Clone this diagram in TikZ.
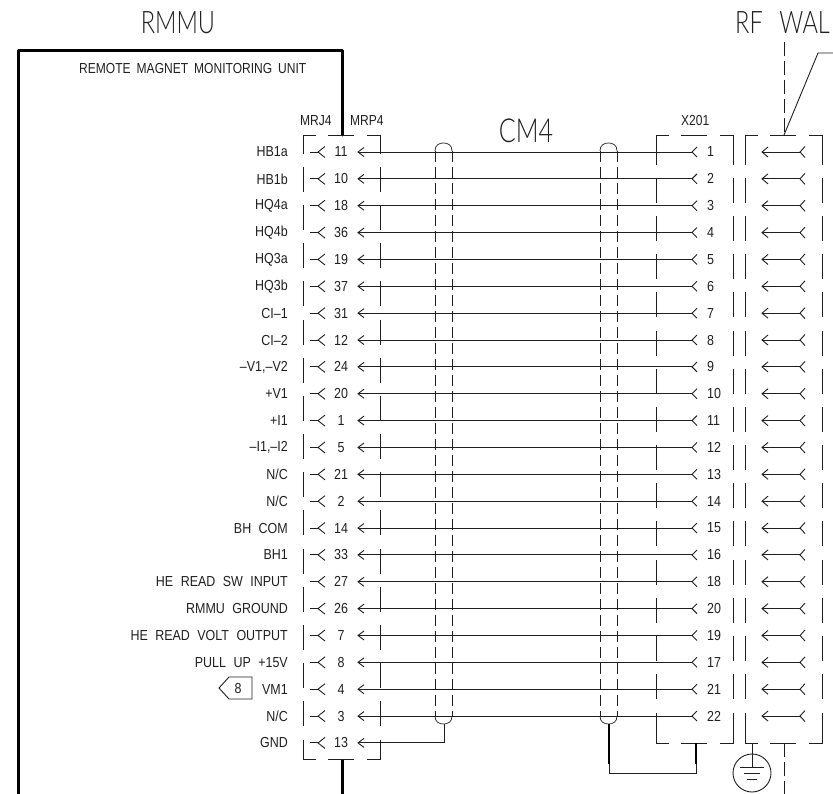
\documentclass[tikz,border=0pt]{standalone}
\usepackage{fontspec}
\newfontfamily\cadfont[FakeStretch=0.86,WordSpace=2.15]{Liberation Sans}
\newfontfamily\smallfont[FakeStretch=0.83,WordSpace=1.8]{Liberation Sans}
\newfontfamily\titlefont[FakeStretch=0.76,WordSpace=2.6]{Lato Light}
\definecolor{ink}{gray}{0.12}
\tikzset{
  lab/.style={inner sep=0pt,font=\cadfont\fontsize{14.5}{14.5}\selectfont,text=ink},
  small/.style={inner sep=0pt,font=\smallfont\fontsize{14.5}{14.5}\selectfont,text=ink},
  titletext/.style={inner sep=0pt,font=\titlefont\fontsize{31}{31}\selectfont,text=ink},
  cabletext/.style={inner sep=0pt,font=\titlefont\fontsize{33}{33}\selectfont,text=ink},
  wire/.style={draw=ink,line width=0.9pt},
  thickwall/.style={draw=black,line width=3pt,line cap=round,line join=round},
  longdash/.style={draw=ink,line width=0.9pt,dash pattern=on 25pt off 13.15pt},
  shielddash/.style={draw=ink,line width=0.9pt,dash pattern=on 11pt off 5pt},
  centerdash/.style={draw=ink,line width=0.9pt,dash pattern=on 14pt off 5pt},
  fork/.style={draw=ink,line width=0.9pt},
}
\newcommand{\frameconn}[7]{
  \draw[wire] (#1,#7) -- (#1,#3) -- (#1+13,#3);
  \draw[wire] (#1+25,#3) -- (#1+51,#3);
  \draw[wire] (#1+64,#3) -- (#2,#3) -- (#2,#7);
  \draw[wire] (#1,#4) -- (#1,135) -- (#1+13,135);
  \draw[wire] (#1+25,135) -- (#1+51,135);
  \draw[wire] (#1+64,135) -- (#2,135) -- (#2,#4);
  \draw[longdash] (#1,#5) -- (#1,#6);
  \draw[longdash] (#2,#5) -- (#2,#6);
}
\begin{document}
\begin{tikzpicture}[x=1pt,y=-1pt]
\useasboundingbox (0,0) rectangle (833,793);
\clip (0,0) rectangle (833,793);
% titles
\node[titletext,anchor=base] (rmmu) at (178,33.5) {RMMU};
\node[titletext,anchor=base west] (rfwal) at (735,33.5) {RF WAL};
\node[cabletext,anchor=base] (cmf) at (526,142) {CM4};
\node[small,anchor=base west] (unit) at (79,73.5) {REMOTE MAGNET MONITORING UNIT};
\node[small,anchor=base west] (mrj) at (300,125) {MRJ4};
\node[small,anchor=base west] (mrp) at (350,125) {MRP4};
\node[small,anchor=base west] (xtwo) at (681,125) {X201};
% unit outline
\coordinate (boxbl) at (18,795);
\coordinate (boxtl) at (18,50);
\coordinate (boxtr) at (342,50);
\coordinate (boxr) at (342,135);
\coordinate (boxr2) at (342,759);
\coordinate (boxr3) at (342,795);
\draw[thickwall] (boxbl) -- (boxtl) -- (boxtr) -- (boxr);
\draw[thickwall,line cap=butt] (boxr2) -- (boxr3);
% connector frames
\frameconn{303}{380}{759}{154}{167}{727.5}{740}
\frameconn{656}{733}{743}{164.5}{178}{700}{713}
\frameconn{745}{822}{743}{164.5}{178}{700}{713}
% rows
\foreach \i/\lbl/\pin/\rpin in {
 0/HB1a/11/1, 1/HB1b/10/2, 2/HQ4a/18/3, 3/HQ4b/36/4, 4/HQ3a/19/5, 5/HQ3b/37/6,
 6/CI–1/31/7, 7/CI–2/12/8, 8/–V1{,}–V2/24/9, 9/+V1/20/10, 10/+I1/1/11, 11/–I1{,}–I2/5/12,
 12/N\slash C/21/13, 13/N\slash C/2/14, 14/BH COM/14/15, 15/BH1/33/16,
 16/HE READ SW INPUT/27/18, 17/RMMU GROUND/26/20, 18/HE READ VOLT OUTPUT/7/19,
 19/PULL UP +15V/8/17, 20/VM1/4/21, 21/N\slash C/3/22}{
  \pgfmathsetmacro\yy{152+26.86*\i}
  \node[lab,anchor=east] (name\i) at (288,\yy) {\lbl};
  \node[lab] (pin\i) at (341,\yy) {\pin};
  \node[lab,anchor=west] (rpin\i) at (707,\yy) {\rpin};
  \coordinate (lt\i) at (358,\yy);
  \coordinate (rt\i) at (692,\yy);
  \draw[wire] (lt\i) -- (rt\i);
  \draw[fork] (364,\yy-4.5) -- (lt\i) -- (364,\yy+4.5);
  \draw[fork] (697,\yy-5) -- (rt\i) -- (697,\yy+5);
  \draw[fork] (310,\yy) -- (318,\yy);
  \draw[fork] (325,\yy-5.5) -- (318,\yy) -- (325,\yy+5.5);
  \draw[fork] (768,\yy-5) -- (762,\yy) -- (768,\yy+5);
  \draw[fork] (762,\yy) -- (800,\yy);
  \draw[fork] (805,\yy-5.5) -- (800,\yy) -- (805,\yy+5.5);
}
% GND row
\pgfmathsetmacro\yg{152+26.86*22}
\node[lab,anchor=east] (namegnd) at (288,\yg) {GND};
\node[lab] (pingnd) at (341,\yg) {13};
\coordinate (ltg) at (358,\yg);
\coordinate (shA) at (444,\yg);
\coordinate (shAb) at (444,724);
\draw[wire] (ltg) -- (shA) -- (shAb);
\draw[fork] (364,\yg-4.5) -- (ltg) -- (364,\yg+4.5);
\draw[fork] (310,\yg) -- (318,\yg);
\draw[fork] (325,\yg-5.5) -- (318,\yg) -- (325,\yg+5.5);
% shields
\foreach \xa/\xb in {435/452,600/617}{
  \draw[shielddash] (\xa,151) -- (\xa,716);
  \draw[shielddash] (\xb,151) -- (\xb,716);
  \draw[wire,line width=0.7pt] (\xa,151) .. controls (\xa,145) and (\xa+4,143) .. ({(\xa+\xb)/2},143) .. controls (\xb-4,143) and (\xb,145) .. (\xb,151);
  \draw[wire,line width=0.7pt] (\xa,716) .. controls (\xa,722) and (\xa+4,724) .. ({(\xa+\xb)/2},724) .. controls (\xb-4,724) and (\xb,722) .. (\xb,716);
}
% shield 2 to X201
\coordinate (shB) at (609,724);
\coordinate (shBk) at (609,764);
\coordinate (shBl) at (609,773);
\coordinate (xB) at (696,743);
\coordinate (xBk) at (696,764);
\coordinate (xBl) at (696,773);
\draw[draw=black,line width=1.6pt] (shB) -- (shBk);
\draw[draw=black,line width=1.6pt] (xB) -- (xBk);
\draw[wire] (shBk) -- (shBl) -- (xBl) -- (xBk);
% tag
\node[lab] (tag) at (238,688) {8};
\draw[wire] (252,677) -- (229,677) -- (219,688) -- (229,699) -- (252,699) -- cycle;
% RF wall line
\coordinate (wtop) at (784,42);
\coordinate (wmid) at (784,135);
\coordinate (wbot) at (784,743);
\coordinate (wend) at (784,795);
\draw[centerdash] (wtop) -- (wmid);
\draw[centerdash] (wbot) -- (wend);
\coordinate (lead) at (818,53);
\coordinate (leadend) at (835,53);
\draw[wire] (wmid) -- (lead) -- (leadend);
% ground
\node[draw=ink,line width=0.9pt,circle,minimum size=38pt,inner sep=0pt] (gnd) at (752,773) {};
\coordinate (gtop) at (752,743);
\coordinate (gbar) at (752,767);
\draw[wire] (gtop) -- (gbar);
\draw[wire] (740,767) -- (764,767);
\draw[wire] (744,773) -- (760,773);
\draw[wire] (747,779) -- (757,779);
\end{tikzpicture}
\end{document}
